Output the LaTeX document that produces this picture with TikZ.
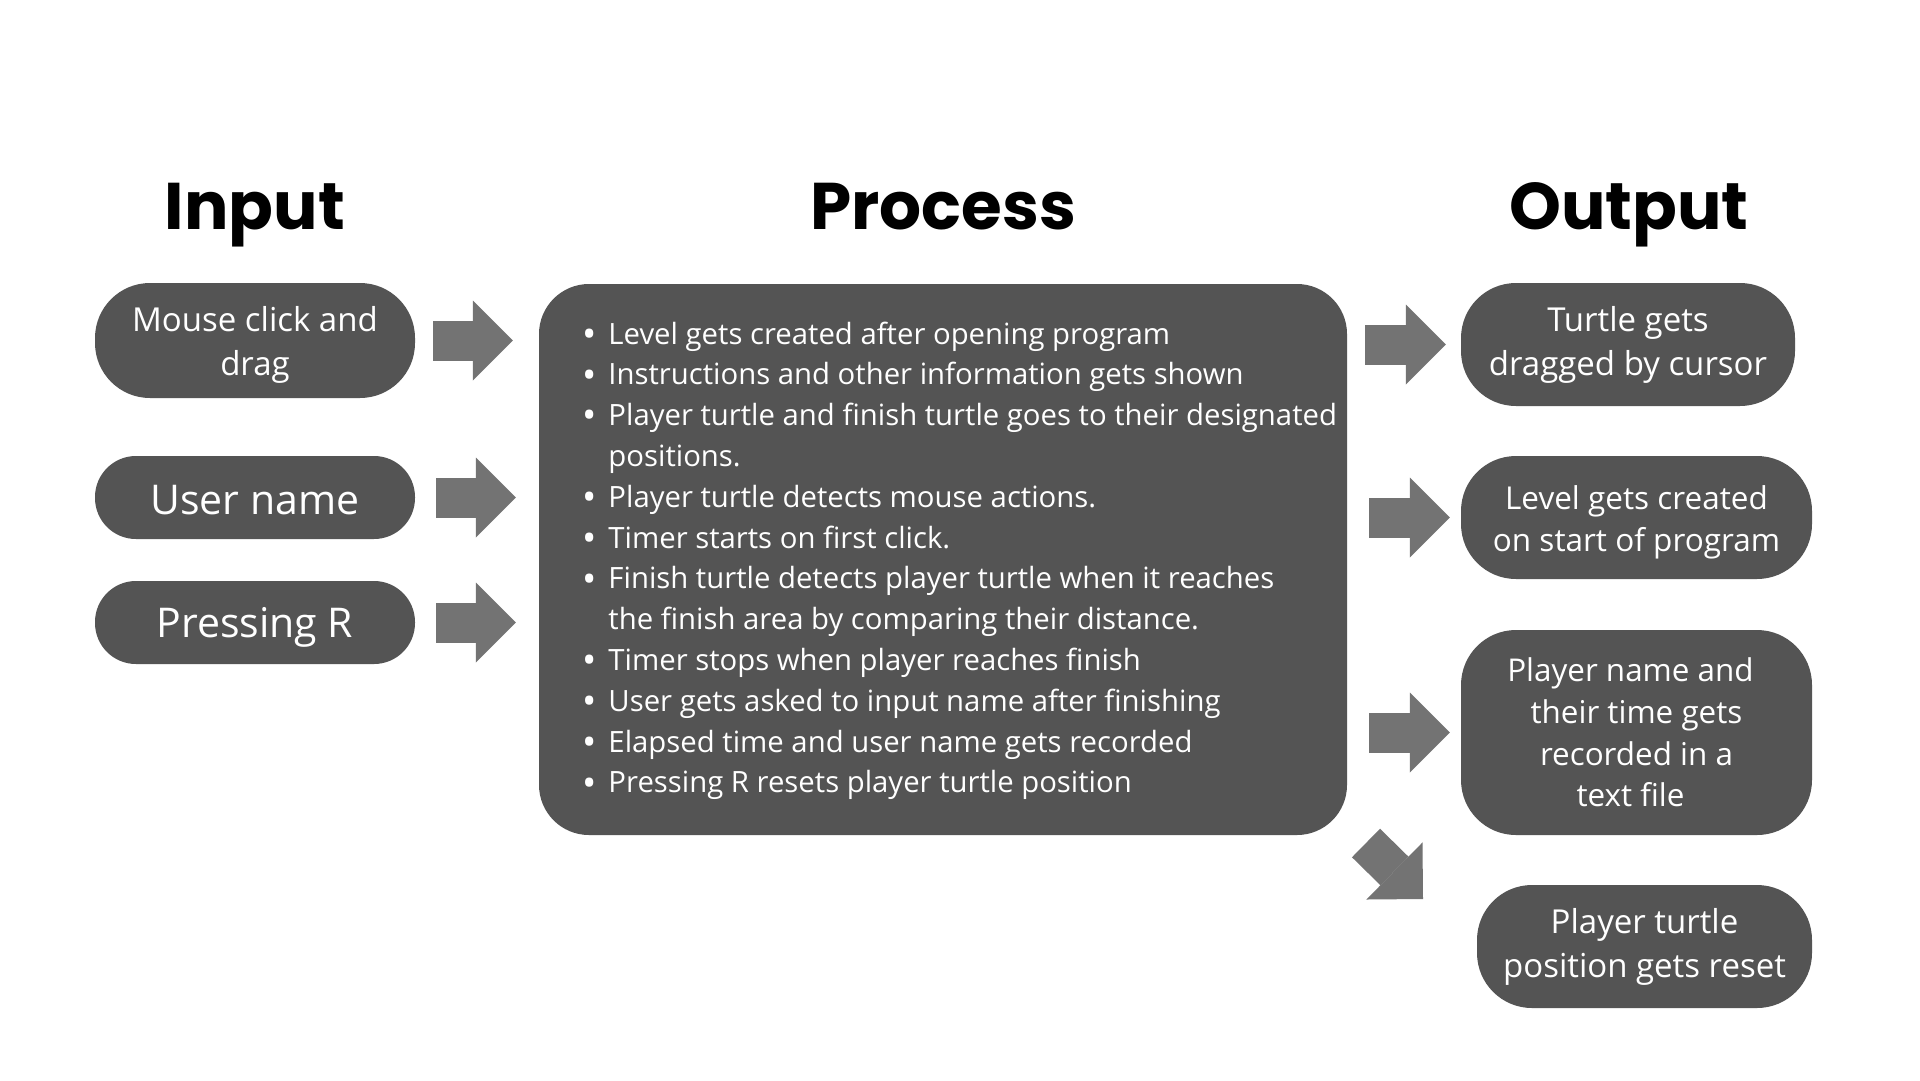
\documentclass[tikz,border=0pt]{standalone}
\usepackage{fontspec}
\setmainfont{Open Sans}
\newfontfamily\titlefont{Poppins}
\usetikzlibrary{arrows.meta, positioning}
\definecolor{pillgray}{HTML}{545454}
\definecolor{arrowgray}{HTML}{737373}
\newcommand{\dotitem}{\raisebox{-3.2pt}{\fontsize{38}{38}\selectfont\textbullet}}
\newcommand{\lowered}[2]{\raisebox{-#1}[\height][\depth]{#2}}

\begin{document}
\begin{tikzpicture}[x=1pt, y=-1pt,
  title/.style={font=\titlefont\bfseries\fontsize{66}{66}\selectfont, anchor=base},
  pill/.style={rectangle, fill=pillgray, text=white, rounded corners=55pt,
               align=center, inner sep=0pt, font=\fontsize{33}{44}\selectfont},
  bigpill/.style={pill, rounded corners=41pt, font=\fontsize{41}{44}\selectfont},
  blockarr/.style={arrowgray, line width=40pt,
                   -{Triangle[length=40pt, width=80pt, line width=0pt]}},
]
  \useasboundingbox[fill=white] (0,0) rectangle (1920,1080);

  % Titles
  \node[title] (tin) at (255,229) {Input};
  \node[title] (tproc) at (943,229) {Process};
  \node[title] (tout) at (1629,229) {Output};

  % Inputs
  \node[pill, minimum width=320pt, minimum height=115pt] (mouse) at (255,340.5) {\lowered{4pt}{Mouse click and}\\\lowered{4pt}{drag}};
  \node[bigpill, minimum width=320pt, minimum height=83pt] (user) at (255,497.5) {\lowered{2.5pt}{User name}};
  \node[bigpill, minimum width=320pt, minimum height=83pt] (press) at (255,622.5) {\lowered{5pt}{Pressing R}};

  % Process
  \node[pill, rounded corners=50pt, minimum width=808pt, minimum height=551pt] (proc) at (943,559.5) {};
  \node[anchor=base west, inner sep=0pt, text=white, font=\fontsize{29.3}{40.8}\selectfont] (steps) at (582,344) {%
    \begin{tabular}[t]{@{}l@{\hspace{12pt}}l@{}}
      \dotitem & Level gets created after opening program\\
      \dotitem & Instructions and other information gets shown\\
      \dotitem & Player turtle and finish turtle goes to their designated\\
               & positions.\\
      \dotitem & Player turtle detects mouse actions.\\
      \dotitem & Timer starts on first click.\\
      \dotitem & Finish turtle detects player turtle when it reaches\\
               & the finish area by comparing their distance.\\
      \dotitem & Timer stops when player reaches finish\\
      \dotitem & User gets asked to input name after finishing\\
      \dotitem & Elapsed time and user name gets recorded\\
      \dotitem & Pressing R resets player turtle position
    \end{tabular}};

  % Outputs
  \node[pill, minimum width=334pt, minimum height=123pt] (turtle) at (1628,344.5) {Turtle gets\\dragged by cursor};
  \node[pill, minimum width=351pt, minimum height=123pt, font=\fontsize{31.5}{42}\selectfont] (level) at (1636.5,517.5) {\lowered{5pt}{Level gets created}\\\lowered{5pt}{on start of program}};
  \node[pill, minimum width=351pt, minimum height=205pt, font=\fontsize{31.4}{41.8}\selectfont] (player) at (1636.5,732.5) {Player name and\hspace*{12pt}\\their time gets\hspace*{12pt}\\recorded in a\hspace*{12pt}\\text file\hspace*{12pt}};
  \node[pill, minimum width=335pt, minimum height=123pt, font=\fontsize{33}{44}\selectfont] (reset) at (1644.5,946.5) {Player turtle\\position gets reset};

  % Arrows
  \draw[blockarr, shorten <=18pt, shorten >=26pt] (mouse.east) -- (mouse.east -| proc.west);
  \draw[blockarr, shorten <=21pt, shorten >=23pt] (user.east) -- (user.east -| proc.west);
  \draw[blockarr, shorten <=21pt, shorten >=23pt] (press.east) -- (press.east -| proc.west);
  \draw[blockarr, shorten <=18pt, shorten >=15pt] (proc.east |- turtle.west) -- (turtle.west);
  \draw[blockarr, shorten <=22pt, shorten >=11pt] (proc.east |- level.west) -- (level.west);
  \draw[blockarr, shorten <=22pt, shorten >=11pt] (proc.east |- player.west) -- (player.west);
  \coordinate (dfrom) at (1366,843);
  \coordinate (dto) at (1423,899);
  \draw[blockarr] (dfrom) -- (dto);
\end{tikzpicture}
\end{document}
